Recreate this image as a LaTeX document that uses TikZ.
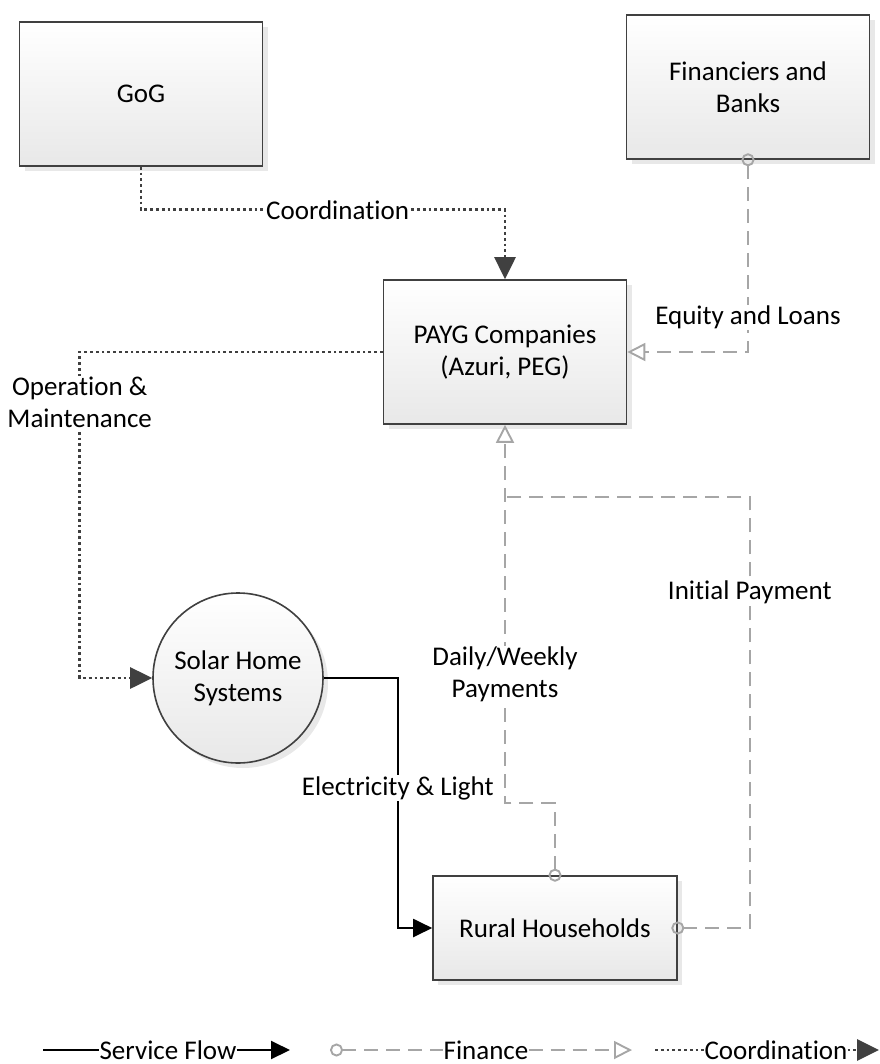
\documentclass[tikz,border=0pt]{standalone}
\usepackage{fontspec}
\setmainfont{Carlito}[Ligatures=NoCommon]
\usepackage{xcolor}
\usetikzlibrary{arrows.meta,shadows}
\definecolor{coordgray}{HTML}{404040}
\definecolor{fingray}{HTML}{A6A6A6}

\begin{document}
\begin{tikzpicture}[x=1pt, y=-1pt, font=\fontsize{27}{32}\selectfont]
    \tikzset{box/.style={draw=coordgray, line width=1.6pt, top color=white, bottom color=black!9,
        minimum width=243pt, minimum height=144pt, align=center,
        drop shadow={shadow xshift=5pt, shadow yshift=-5pt, fill=black!15, opacity=0.6}}}
    \tikzset{lbl/.style={fill=white, text=black, inner sep=1pt, align=center}}
    \tikzset{leg/.style={inner sep=0pt, text=black}}
    \tikzset{service/.style={line width=2pt, black}}
    \tikzset{coord/.style={line width=2.8pt, coordgray, dash pattern=on 2.8pt off 3pt}}
    \tikzset{fin/.style={line width=1.9pt, fingray, dash pattern=on 14pt off 8pt}}
    \tikzset{solidtip/.style={-{Triangle[length=22pt, width=21pt]}}}
    \tikzset{servicetip/.style={-{Triangle[length=19pt, width=18pt]}}}
    \tikzset{opentip/.style={-{Triangle[open, length=18pt, width=18pt]}}}
    \tikzset{ringtip/.style={{Circle[open, length=13pt, width=13pt]}-, shorten <=-6.5pt}}
    \tikzset{ringopen/.style={{Circle[open, length=13pt, width=13pt]}-{Triangle[open, length=18pt, width=18pt]}, shorten <=-6.5pt}}
    \useasboundingbox (0,0) rectangle (879,1064);
    % actors
    \node[box] (gog) at (141,94) {GoG};
    \node[box] (bank) at (748,87) {Financiers and\\Banks};
    \node[box] (payg) at (505,352) {PAYG Companies\\(Azuri, PEG)};
    \node[box, circle, minimum size=170pt] (solar) at (238,678) {Solar Home\\Systems};
    \node[box, minimum width=244pt, minimum height=104pt] (rural) at (555,928) {Rural Households};
    \coordinate (merge) at (505,497);
    % coordination
    \draw[coord, solidtip] (gog.south) -- ++(0,43) -| node[lbl, pos=0.27] {Coordination} (payg.north);
    \draw[coord, solidtip] (payg.west) -- ++(-303,0) |- node[lbl, pos=0.077] {Operation \&\\Maintenance} (solar.west);
    % finance
    \draw[fin, ringopen] (bank.south) |- node[lbl, pos=0.41] {Equity and Loans} (payg.east);
    \draw[fin, ringopen] (rural.north) -- ++(0,-72) -| node[lbl, pos=0.67] {Daily/Weekly\\Payments} (payg.south);
    \draw[fin, ringtip] (rural.east) -- ++(72,0) |- node[lbl, pos=0.39] {Initial Payment} (merge);
    % service
    \draw[service, servicetip] (solar.east) -- ++(74,0) |- node[lbl, pos=0.22] {Electricity \& Light} (rural.west);
    % legend
    \coordinate (sfA) at (43,1050);
    \node[leg] (sf) at (168,1050) {Service Flow};
    \coordinate (sfB) at (290,1050);
    \draw[service] (sfA) -- (sf);
    \draw[service, servicetip] (sf) -- (sfB);
    \coordinate (fiA) at (330,1050);
    \node[leg] (fi) at (486,1050) {Finance};
    \coordinate (fiB) at (632,1050);
    \draw[fin, {Circle[open, length=13pt, width=13pt]}-] (fiA) -- (fi);
    \draw[fin, opentip] (fi) -- (fiB);
    \coordinate (coA) at (655,1050);
    \node[leg] (co) at (776,1050) {Coordination};
    \coordinate (coB) at (879,1050);
    \draw[coord] (coA) -- (co);
    \draw[coord, solidtip] (co) -- (coB);
\end{tikzpicture}
\end{document}
